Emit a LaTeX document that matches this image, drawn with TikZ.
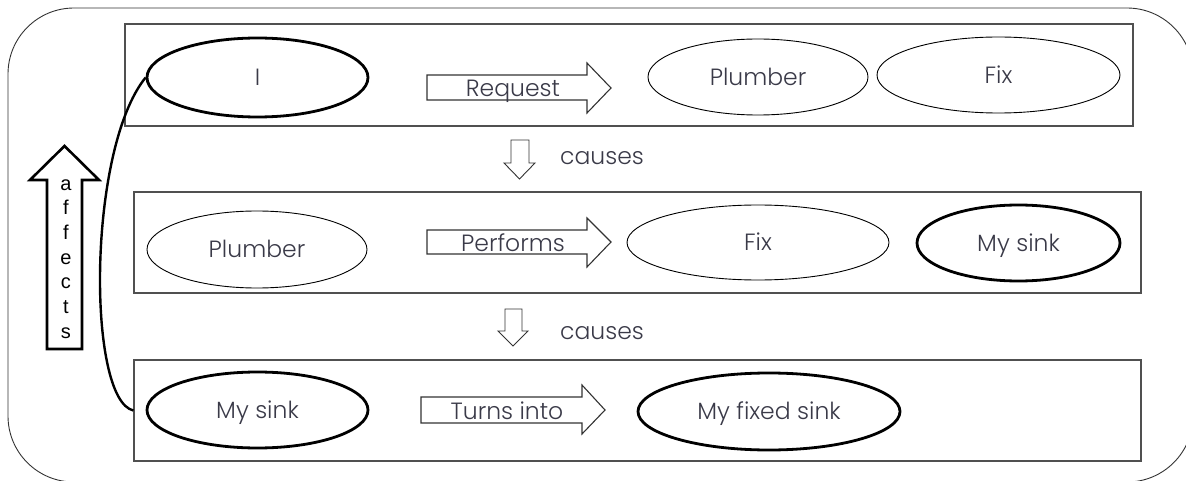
\documentclass[tikz,border=0pt]{standalone}
\usepackage{fontspec}
\setmainfont{Poppins}[UprightFont=* Light]
\newfontfamily\arialfont{Liberation Sans}
\usetikzlibrary{shapes.geometric}
\definecolor{txt}{HTML}{3A3A48}
\definecolor{frame}{HTML}{505050}
\tikzset{
  row/.style={draw=frame, line width=1.2pt, minimum height=#1, inner sep=0pt},
  words/.style={font=\fontsize{23.5}{23.5}\selectfont, text=txt, text height=16.5pt, text depth=0pt},
  thin/.style={ellipse, draw, line width=0.9pt, inner sep=0pt, words},
  bold/.style={ellipse, draw, line width=2.8pt, inner sep=0pt, words},
  blockarrow/.style={draw=black!80, line width=1.1pt, fill=white},
  lbl/.style={words, inner sep=0pt},
}
\begin{document}
\begin{tikzpicture}[x=1pt,y=-1pt]
\useasboundingbox (0,0) rectangle (1186,481);
\begin{scope}
\clip (0,0) rectangle (1186,481);
% outer rounded frame
\draw[line width=0.9pt, rounded corners=66pt, black!80] (8,8) rectangle (1193,482);
\end{scope}

% the three rows
\node[row=102pt, minimum width=1008pt] (r1) at (629,75) {};
\node[row=101pt, minimum width=1007pt] (r2) at (637.5,242.5) {};
\node[row=101pt, minimum width=1007pt] (r3) at (637.5,410.5) {};

% row 1
\node[bold, minimum width=221pt, minimum height=79pt] (I) at (257.5,77.5) {I};
\node[thin, minimum width=220pt, minimum height=76pt] (p1) at (758,77) {Plumber};
\node[thin, minimum width=243pt, minimum height=76pt] (f1) at (998.5,75) {Fix};
\draw[blockarrow] (427,75) -- (587,75) -- (587,63) -- (611,88) -- (587,113) -- (587,100) -- (427,100) -- cycle;
\node[lbl] (req) at (513,88.5) {Request};

% row 2
\node[thin, minimum width=220pt, minimum height=77pt] (p2) at (257,249.5) {Plumber};
\node[thin, minimum width=262pt, minimum height=75pt] (f2) at (758,242.5) {Fix};
\node[bold, minimum width=203pt, minimum height=76pt] (s2) at (1018.5,243) {My sink};
\draw[blockarrow] (427,230) -- (587,230) -- (587,218) -- (611,242) -- (587,267) -- (587,254) -- (427,254) -- cycle;
\node[lbl] (perf) at (513,243) {Performs};

% row 3
\node[bold, minimum width=221pt, minimum height=76pt] (s3) at (257.5,410) {My sink};
\node[bold, minimum width=262pt, minimum height=77pt] (fs) at (769,411.5) {My fixed sink};
\draw[blockarrow] (421,397) -- (582,397) -- (582,385) -- (605,410) -- (582,434) -- (582,423) -- (421,423) -- cycle;
\node[lbl] (turn) at (507,411) {Turns into};

% "causes" arrows between rows
\draw[blockarrow, line width=0.9pt] (511,140) -- (529,140) -- (529,163) -- (535,163) -- (519.5,179) -- (504,163) -- (511,163) -- cycle;
\node[lbl] (c1) at (602,156) {causes};
\draw[blockarrow, line width=0.9pt] (505,309) -- (522,309) -- (522,331) -- (528,331) -- (513,346) -- (498,331) -- (505,331) -- cycle;
\node[lbl] (c2) at (602,331) {causes};

% "affects" arrow
\draw[line width=2.6pt, fill=white] (47,349) -- (82,349) -- (82,180) -- (99,180) -- (64.5,146) -- (30,180) -- (47,180) -- cycle;
\node[font=\arialfont\fontsize{20}{24.7}\selectfont, align=center, inner sep=0pt] (aff) at (66,259)
  {a\\f\\f\\e\\c\\t\\s};

% link from "I" down to the last row
\draw[line width=2.4pt] (I.west) .. controls (87,150) and (87,400) .. (r3.west);
\end{tikzpicture}
\end{document}
